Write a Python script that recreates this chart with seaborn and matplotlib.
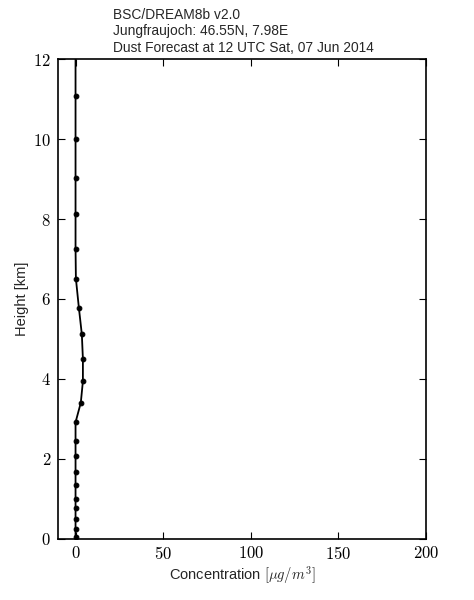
import matplotlib
matplotlib.use("Agg")
import matplotlib.pyplot as plt
from matplotlib.ticker import FuncFormatter, MultipleLocator
import seaborn as sns
import pandas as pd

# Data
height_km = [0.04, 0.24, 0.48, 0.76, 0.99, 1.35, 1.66, 2.06, 2.44, 2.91,
             3.40, 3.94, 4.50, 5.11, 5.78, 6.51, 7.26, 8.12, 9.02, 10.0,
             11.08, 12.3]
conc = [0.0, 0.0, 0.0, 0.0, 0.0, 0.0, 0.0, 0.0, 0.0, 0.0,
        3.0, 4.2, 4.2, 3.6, 1.9, 0.2, 0.0, 0.0, 0.0, 0.0,
        0.0, 0.0]
title_lines = ["BSC/DREAM8b v2.0",
               "Jungfraujoch: 46.55N, 7.98E",
               "Dust Forecast at 12 UTC Sat, 07 Jun 2014"]

sns.set_style("ticks")
plt.rcParams["font.family"] = ["Liberation Sans", "DejaVu Sans"]
plt.rcParams["mathtext.fontset"] = "cm"

df = pd.DataFrame({"conc": conc, "height": height_km})

fig = plt.figure(figsize=(4.74, 6.0), dpi=100)
ax = fig.add_axes([0.1224, 0.1025, 0.8987 - 0.1224, 0.901 - 0.1025])

sns.lineplot(data=df, x="conc", y="height", orient="y", sort=False,
             estimator=None, color="black", linewidth=1.3, marker="o",
             markersize=3.4, markeredgecolor="black", ax=ax)

ax.set_xlim(-10, 200)
ax.set_ylim(0, 12)
ax.xaxis.set_major_locator(MultipleLocator(50))
ax.yaxis.set_major_locator(MultipleLocator(2))
fmt = FuncFormatter(lambda v, p: r"$%d$" % int(round(v)))
ax.xaxis.set_major_formatter(fmt)
ax.yaxis.set_major_formatter(fmt)
ax.tick_params(direction="in", length=5, width=0.8, top=True, right=True,
               labelsize=12, pad=5, colors="black")
for s in ax.spines.values():
    s.set_linewidth(1.2)
    s.set_color("black")

ax.set_xlabel(r"Concentration $[\mu g/m^3]$", fontsize=10.5, labelpad=1)
ax.set_ylabel("Height [km]", fontsize=10.5, labelpad=3)

for i, t in enumerate(title_lines):
    fig.text(113 / 474, 1 - (15 + 16.3 * i) / 600, t, fontsize=9.9,
             ha="left", va="center")

fig.savefig("out.png", dpi=100)
